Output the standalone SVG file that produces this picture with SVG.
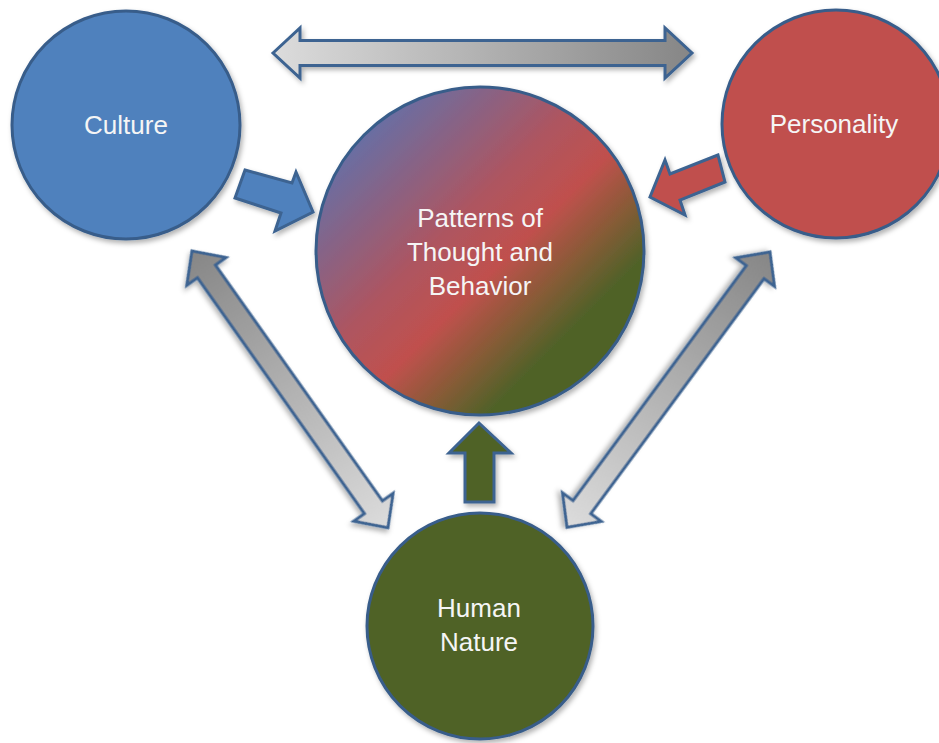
<svg xmlns="http://www.w3.org/2000/svg" width="939" height="743" viewBox="0 0 939 743">
<defs>
<linearGradient id="gLD" x1="0" y1="0" x2="1" y2="0">
<stop offset="0" stop-color="#dcdcdc"/>
<stop offset="1" stop-color="#868686"/>
</linearGradient>
<linearGradient id="gDL" x1="0" y1="0" x2="1" y2="0">
<stop offset="0" stop-color="#868686"/>
<stop offset="1" stop-color="#dcdcdc"/>
</linearGradient>
<linearGradient id="gMix" x1="0" y1="0" x2="1" y2="1">
<stop offset="0" stop-color="#4f81bd"/>
<stop offset="0.15" stop-color="#6a6ea2"/>
<stop offset="0.42" stop-color="#ae5560"/>
<stop offset="0.55" stop-color="#c0504d"/>
<stop offset="0.65" stop-color="#8c5a38"/>
<stop offset="0.76" stop-color="#4f6228"/>
<stop offset="1" stop-color="#4f6228"/>
</linearGradient>
<filter id="sh" x="-20%" y="-20%" width="140%" height="140%">
<feDropShadow dx="2" dy="3" stdDeviation="2.5" flood-color="#000" flood-opacity="0.3"/>
</filter>
</defs>
<style>
.node{stroke:#385d8a;stroke-width:3;filter:url(#sh)}
.arr{stroke:#3c6391;stroke-width:3;stroke-linejoin:miter;filter:url(#sh)}
.lbl{font-family:"Liberation Sans",Arial,sans-serif;font-size:26px;fill:#f5f5f5;text-anchor:middle}
</style>
<rect width="939" height="743" fill="#ffffff"/>
<g id="culture">
<circle class="node" cx="126" cy="125" r="114" fill="#4f81bd"/>
<text class="lbl" x="126" y="134">Culture</text>
</g>
<g id="personality">
<circle class="node" cx="836" cy="124" r="114" fill="#c0504d"/>
<text class="lbl" x="834" y="133">Personality</text>
</g>
<g id="patterns">
<circle class="node" cx="480" cy="251" r="164" fill="url(#gMix)"/>
<text class="lbl" x="480" y="227">Patterns of</text>
<text class="lbl" x="480" y="261">Thought and</text>
<text class="lbl" x="480" y="295">Behavior</text>
</g>
<g id="human-nature">
<circle class="node" cx="480" cy="626" r="113" fill="#4f6228"/>
<text class="lbl" x="479" y="617">Human</text>
<text class="lbl" x="479" y="651">Nature</text>
</g>
<g id="connectors">
<g transform="translate(273,53)">
<polygon class="arr" fill="url(#gLD)" points="0,0 27,-25 27,-12.5 392,-12.5 392,-25 419,0 392,25 392,12.5 27,12.5 27,25"/>
</g>
<g transform="translate(192,251) rotate(54.7)">
<polygon class="arr" fill="url(#gDL)" points="0,0 25,-24 25,-11 314,-11 314,-24 339,0 314,24 314,11 25,11 25,24"/>
</g>
<g transform="translate(770,252) rotate(126.4)">
<polygon class="arr" fill="url(#gDL)" points="0,0 25,-24 25,-11 317,-11 317,-24 342,0 317,24 317,11 25,11 25,24"/>
</g>
<polygon class="arr" fill="#4f81bd" points="245,170 292,183 296,172 313,212 275,231 281,213 235,198"/>
<polygon class="arr" fill="#c0504d" points="718,155 670,174 665,160 650,197 685,215 680,200 725,182"/>
<polygon class="arr" fill="#4f6228" points="479,423 511,453 494,453 494,502 465,502 465,453 449,453"/>
</g>
</svg>
